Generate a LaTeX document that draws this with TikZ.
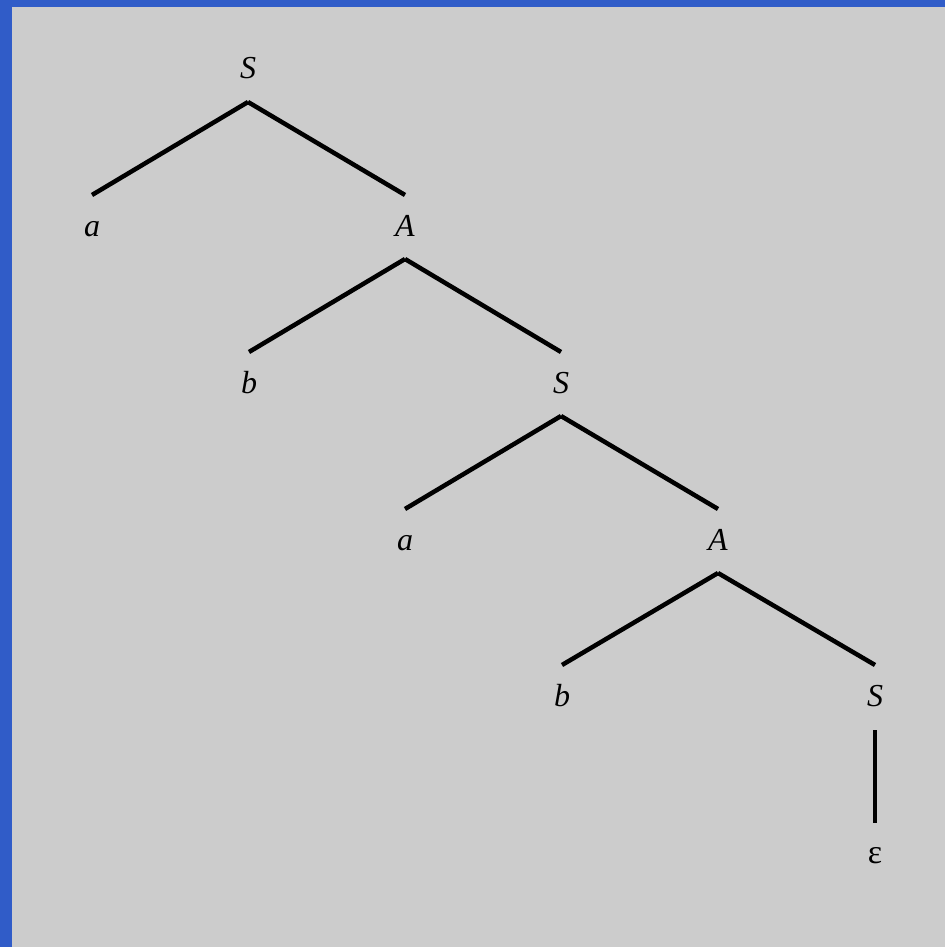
\documentclass[tikz,border=0pt]{standalone}
\usepackage{fontspec}
\setmainfont{Liberation Serif}
\definecolor{frameblue}{RGB}{48,92,200}
\definecolor{bggray}{RGB}{204,204,204}
\begin{document}
\begin{tikzpicture}[x=1pt,y=-1pt,
  lbl/.style={inner sep=0pt,anchor=base,font=\fontsize{32}{38}\selectfont\itshape},
  eps/.style={inner sep=0pt,anchor=base,font=\fontsize{34}{40}\selectfont},
  edge/.style={line width=4.5pt,black}]
\fill[frameblue] (0,0) rectangle (945,947);
\fill[bggray] (12,7) rectangle (945,947);
\useasboundingbox (0,0) rectangle (945,947);
\node[lbl] (s1) at (248,79) {S};
\node[lbl] (a1) at (92,236) {a};
\node[lbl] (A1) at (405,236) {A};
\node[lbl] (b1) at (249,393) {b};
\node[lbl] (s2) at (561,393) {S};
\node[lbl] (a2) at (405,550) {a};
\node[lbl] (A2) at (718,550) {A};
\node[lbl] (b2) at (562,706) {b};
\node[lbl] (s3) at (875,706) {S};
\node[eps] (e) at (875,863) {ε};
\foreach \p/\c in {s1/a1,s1/A1,A1/b1,A1/s2,s2/a2,s2/A2,A2/b2,A2/s3}
  \draw[edge] ([yshift=-23pt]\p.base) -- ([yshift=41pt]\c.base);
\draw[edge] ([yshift=-24pt]s3.base) -- ([yshift=40pt]e.base);
\end{tikzpicture}
\end{document}
